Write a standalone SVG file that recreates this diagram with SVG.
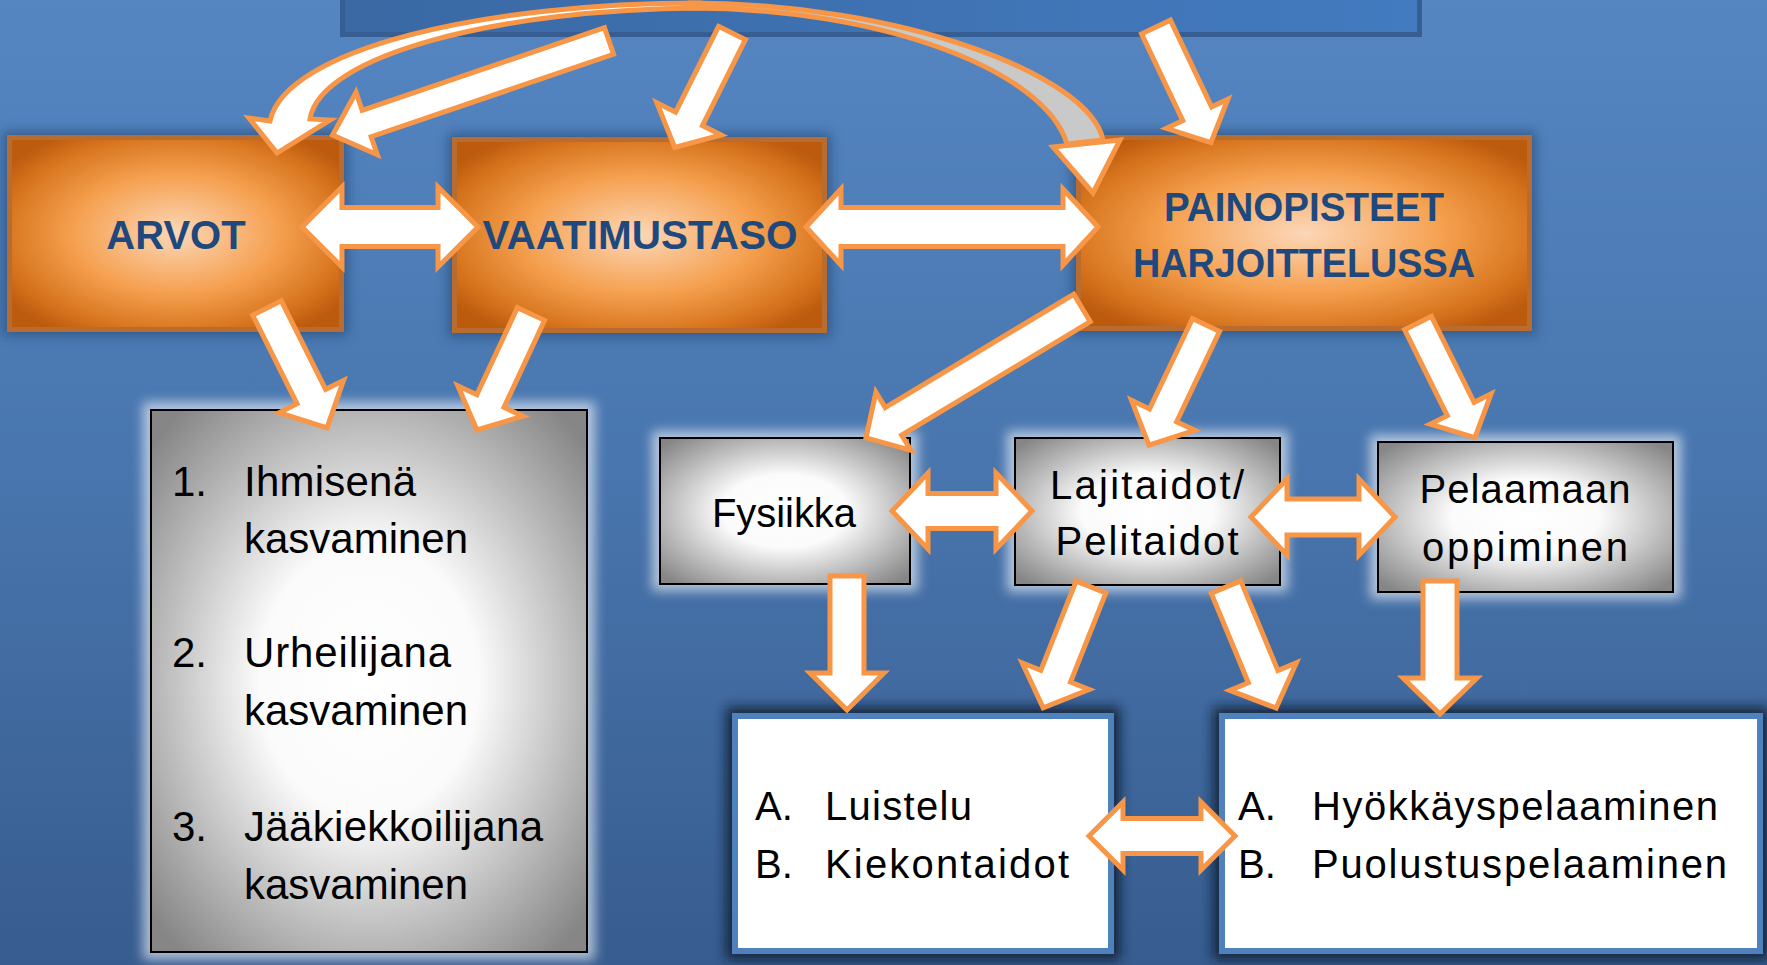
<svg xmlns="http://www.w3.org/2000/svg" width="1767" height="965" viewBox="0 0 1767 965">
<defs>
<linearGradient id="bg" x1="0" y1="0" x2="0" y2="1">
<stop offset="0" stop-color="#5586C2"/><stop offset="0.5" stop-color="#4875AD"/><stop offset="1" stop-color="#375C8F"/>
</linearGradient>
<linearGradient id="banner" x1="0" y1="0" x2="1" y2="0">
<stop offset="0" stop-color="#3A69A4"/><stop offset="1" stop-color="#437BC0"/>
</linearGradient>
<radialGradient id="orange" cx="0.5" cy="0.5" r="0.62">
<stop offset="0" stop-color="#FCD7B8"/><stop offset="0.5" stop-color="#F5A04F"/><stop offset="0.82" stop-color="#D8761F"/><stop offset="1" stop-color="#BC5A0E"/>
</radialGradient>
<radialGradient id="grey" cx="0.5" cy="0.5" r="0.66">
<stop offset="0" stop-color="#FFFFFF"/><stop offset="0.38" stop-color="#FBFBFB"/><stop offset="1" stop-color="#868686"/>
</radialGradient>
<filter id="blur" x="-20%" y="-20%" width="140%" height="140%"><feGaussianBlur stdDeviation="6"/></filter>
<style>
.arr{fill:#FFFFFF;stroke:#F79646;stroke-width:5;stroke-linejoin:miter}
.obox{fill:url(#orange);stroke:#B96C30;stroke-width:5}
.gbox{fill:url(#grey);stroke:#000;stroke-width:2}
.wbox{fill:#FFFFFF;stroke:#4F81BD;stroke-width:6}
.oshadow{fill:#1E3F6B;opacity:0.55}
.glow{fill:#FFFFFF;opacity:0.6}
.dshadow{fill:#0E1B2E;opacity:0.85}
.title{font-family:"Liberation Sans",Arial,sans-serif;font-weight:bold;font-size:40px;fill:#1F497D;text-anchor:middle}
.txt{font-family:"Liberation Sans",Arial,sans-serif;font-size:40px;fill:#000}
.mid{text-anchor:middle}
.big{font-size:42px}
</style>
</defs>
<rect x="0" y="0" width="1767" height="965" fill="url(#bg)"/>
<rect id="banner" x="342.5" y="-10" width="1077" height="44.5" fill="url(#banner)" stroke="#375E92" stroke-width="5"/>

<g id="node-arvot">
<rect class="oshadow" x="3" y="131" width="345" height="205" filter="url(#blur)"/>
<rect class="obox" x="9.5" y="137.5" width="332" height="192"/>
<text class="title" x="176" y="249">ARVOT</text>
</g>
<g id="node-vaatimustaso">
<rect class="oshadow" x="448" y="133" width="383" height="204" filter="url(#blur)"/>
<rect class="obox" x="454.5" y="139.5" width="370" height="191"/>
<text class="title" x="640" y="249" textLength="315" lengthAdjust="spacingAndGlyphs">VAATIMUSTASO</text>
</g>
<g id="node-painopisteet">
<rect class="oshadow" x="1072" y="131" width="464" height="204" filter="url(#blur)"/>
<rect class="obox" x="1078.5" y="137.5" width="451" height="191"/>
<text class="title" x="1304" y="221" textLength="280" lengthAdjust="spacingAndGlyphs">PAINOPISTEET</text>
<text class="title" x="1304" y="277" textLength="342" lengthAdjust="spacingAndGlyphs">HARJOITTELUSSA</text>
</g>

<g id="node-kasvaminen">
<rect class="glow" x="143" y="402" width="452" height="558" filter="url(#blur)"/>
<rect class="gbox" x="151" y="410" width="436" height="542"/>
<text class="txt big" x="172" y="496">1.</text>
<text class="txt big" x="244" y="496" textLength="172">Ihmisenä</text>
<text class="txt big" x="244" y="553" textLength="224">kasvaminen</text>
<text class="txt big" x="172" y="667">2.</text>
<text class="txt big" x="244" y="667" textLength="207">Urheilijana</text>
<text class="txt big" x="244" y="725" textLength="224">kasvaminen</text>
<text class="txt big" x="172" y="841">3.</text>
<text class="txt big" x="244" y="841" textLength="299">Jääkiekkoilijana</text>
<text class="txt big" x="244" y="899" textLength="224">kasvaminen</text>
</g>
<g id="node-fysiikka">
<rect class="glow" x="652" y="431" width="266" height="160" filter="url(#blur)"/>
<rect class="gbox" x="660" y="438" width="250" height="146"/>
<text class="txt mid" x="784" y="527" textLength="144">Fysiikka</text>
</g>
<g id="node-lajitaidot">
<rect class="glow" x="1007" y="431" width="281" height="161" filter="url(#blur)"/>
<rect class="gbox" x="1015" y="438" width="265" height="147"/>
<text class="txt mid" x="1147" y="499" textLength="194">Lajitaidot/</text>
<text class="txt mid" x="1147" y="555" textLength="183">Pelitaidot</text>
</g>
<g id="node-pelaamaan">
<rect class="glow" x="1370" y="435" width="311" height="164" filter="url(#blur)"/>
<rect class="gbox" x="1378" y="442" width="295" height="150"/>
<text class="txt mid" x="1525" y="503" textLength="211">Pelaamaan</text>
<text class="txt mid" x="1525" y="561" textLength="206">oppiminen</text>
</g>
<g id="node-luistelu">
<rect class="dshadow" x="726" y="707" width="394" height="253" filter="url(#blur)"/>
<rect class="wbox" x="735" y="716" width="376" height="235"/>
<text class="txt" x="755" y="820">A.</text>
<text class="txt" x="825" y="820" textLength="147">Luistelu</text>
<text class="txt" x="755" y="878">B.</text>
<text class="txt" x="825" y="878" textLength="244">Kiekontaidot</text>
</g>
<g id="node-pelaaminen">
<rect class="dshadow" x="1213" y="707" width="556" height="253" filter="url(#blur)"/>
<rect class="wbox" x="1222" y="716" width="538" height="235"/>
<text class="txt" x="1238" y="820">A.</text>
<text class="txt" x="1312" y="820" textLength="406">Hyökkäyspelaaminen</text>
<text class="txt" x="1238" y="878">B.</text>
<text class="txt" x="1312" y="878" textLength="415">Puolustuspelaaminen</text>
</g>

<g id="connectors">
<path class="arr" d="M700,3 C480,3 285,50 270,121 L249,118 L277,153 L330,120 L310,119 C320,55 500,9 700,8 Z"/>
<path class="arr" style="fill:#C9C9C9" d="M690,3 C900,3 1090,75 1103,140 L1067,144 C1045,70 880,8 690,8 Z"/>
<path class="arr" d="M1053,147 L1120,140 L1093,193 Z"/>
<path class="arr" transform="translate(609,41) rotate(161.2)" d="M0,-14 H256 V-33 L292,0 L256,33 V14 H0 Z"/>
<path class="arr" transform="translate(732,33) rotate(116.6)" d="M0,-15 H96 V-36 L128,0 L96,36 V15 H0 Z"/>
<path class="arr" transform="translate(1156,27) rotate(64.6)" d="M0,-16 H96 V-34 L128,0 L96,34 V16 H0 Z"/>
<path class="arr" d="M302,227 L342,187 V207.5 H438 V187 L478,227 L438,267 V246.5 H342 V267 Z"/>
<path class="arr" d="M806,227 L841,189 V207.5 H1063 V189 L1098,227 L1063,265 V246.5 H841 V265 Z"/>
<path class="arr" transform="translate(267,308) rotate(63.4)" d="M0,-16 H99 V-36 L134,0 L99,36 V16 H0 Z"/>
<path class="arr" transform="translate(531,314) rotate(115)" d="M0,-15 H96 V-36 L128,0 L96,36 V15 H0 Z"/>
<path class="arr" transform="translate(1082,308) rotate(149)" d="M0,-16 H220 V-34 L252,0 L220,34 V16 H0 Z"/>
<path class="arr" transform="translate(1206,325) rotate(115.4)" d="M0,-15 H100 V-35 L133,0 L100,35 V15 H0 Z"/>
<path class="arr" transform="translate(1418,323) rotate(63.6)" d="M0,-15 H96 V-34 L128,0 L96,34 V15 H0 Z"/>
<path class="arr" d="M892,511 L928,473 V493.5 H996 V473 L1032,511 L996,549 V528.5 H928 V549 Z"/>
<path class="arr" d="M1251,517 L1287,479 V499 H1359 V479 L1395,517 L1359,555 V535 H1287 V555 Z"/>
<path class="arr" transform="translate(847,576) rotate(90)" d="M0,-17 H97 V-37 L134,0 L97,37 V17 H0 Z"/>
<path class="arr" transform="translate(1091,587) rotate(111.6)" d="M0,-16 H96 V-36 L130,0 L96,36 V16 H0 Z"/>
<path class="arr" transform="translate(1226,587) rotate(67.5)" d="M0,-16 H97 V-36 L131,0 L97,36 V16 H0 Z"/>
<path class="arr" transform="translate(1440,581) rotate(90)" d="M0,-17 H97 V-37 L133,0 L97,37 V17 H0 Z"/>
<path class="arr" d="M1089,836 L1123,802 V818.5 H1201 V802 L1235,836 L1201,870 V853.5 H1123 V870 Z"/>
</g>
</svg>
